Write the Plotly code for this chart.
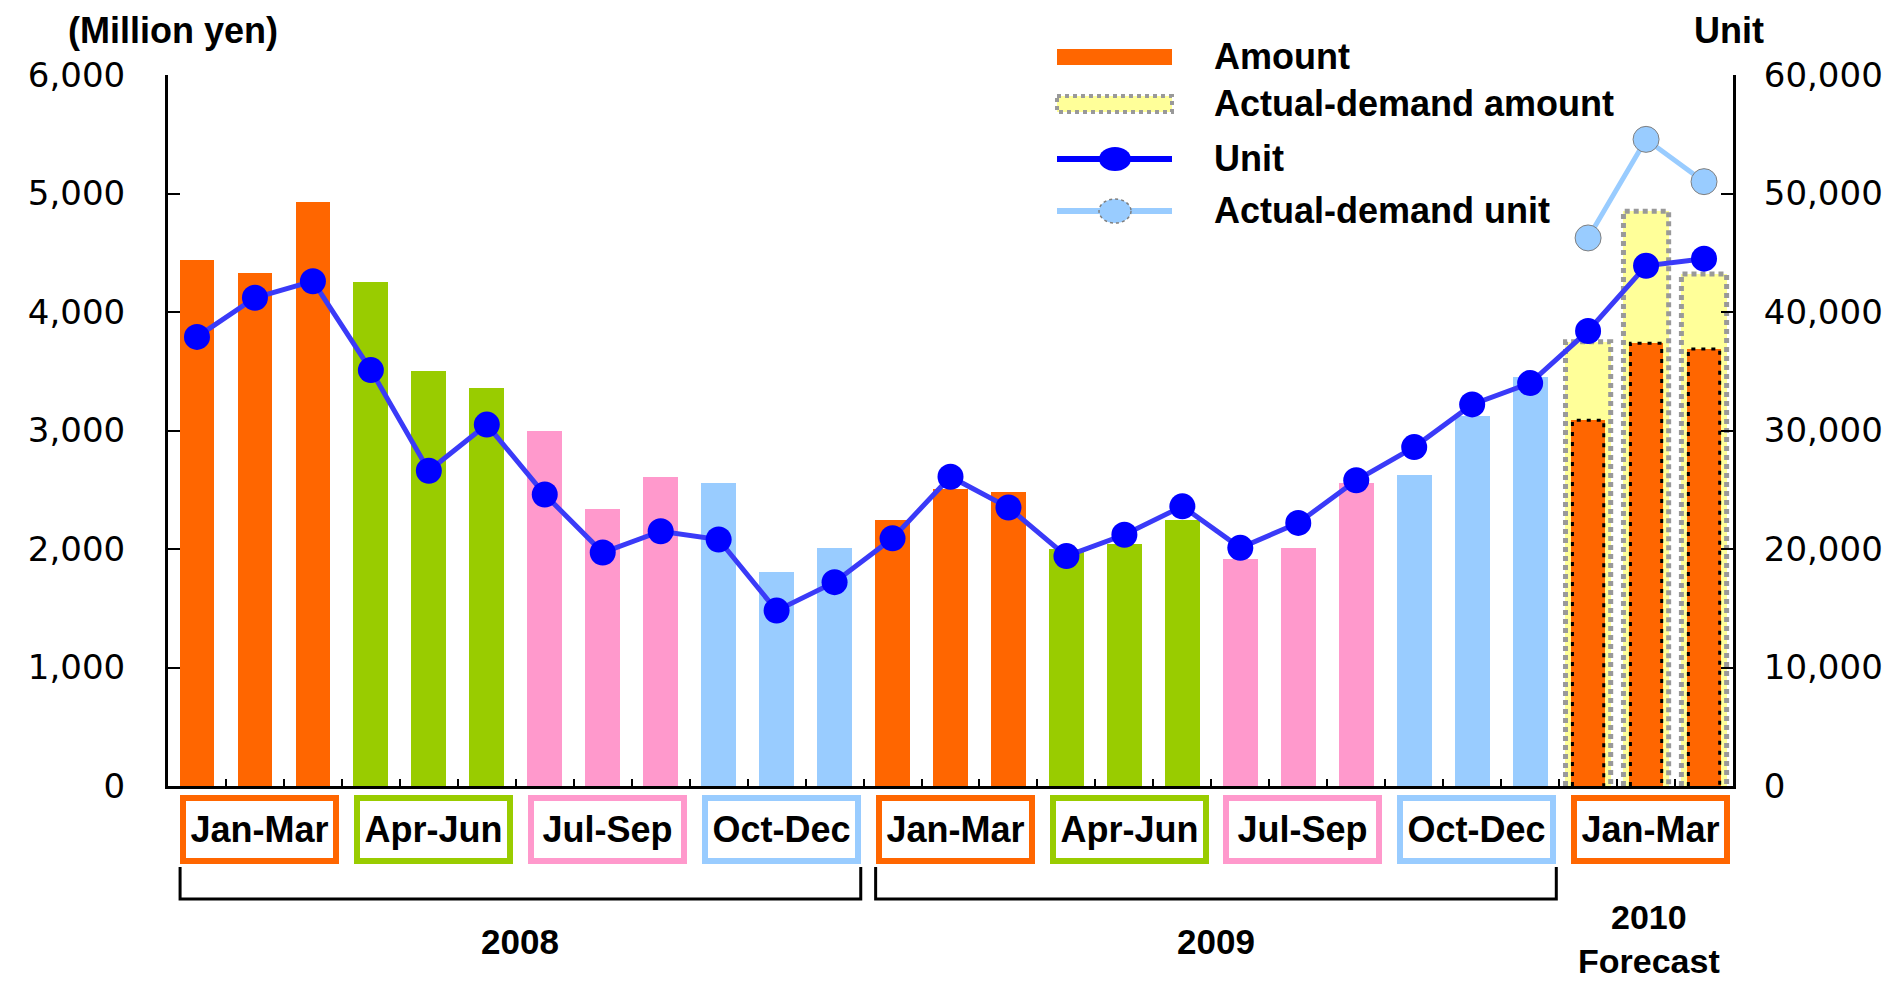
import plotly.graph_objects as go

# ---------------- data ----------------
months = [f"{y}-{m:02d}" for y in (2008, 2009) for m in range(1, 13)] + ["2010-01", "2010-02", "2010-03"]
quarter_labels = ["Jan-Mar", "Apr-Jun", "Jul-Sep", "Oct-Dec"]
year_labels = ["2008", "2009", "2010<br>Forecast"]
series_names = ["Amount", "Actual-demand amount", "Unit", "Actual-demand unit"]

amount = [4440, 4330, 4930, 4255, 3500, 3360, 2995, 2335, 2610, 2555, 1810, 2010,
          2245, 2505, 2480, 2000, 2042, 2245, 1915, 2008, 2557, 2624, 3122, 3451,
          3086, 3737, 3688]
unit = [37900, 41200, 42600, 35100, 26600, 30500, 24600, 19700, 21500, 20800, 14800, 17200,
        20900, 26100, 23500, 19400, 21200, 23600, 20100, 22200, 25800, 28600, 32200, 34000,
        38400, 43900, 44500]
forecast_idx = [24, 25, 26]
actual_amount = [3750, 4850, 4320]
actual_unit = [46250, 54570, 51000]

left_ticks = [0, 1000, 2000, 3000, 4000, 5000, 6000]
right_ticks = [0, 10000, 20000, 30000, 40000, 50000, 60000]

# ---------------- styling ----------------
quarter_colors = ["#FF6600", "#99CC00", "#FF99CC", "#99CCFF"]
C_UNIT, C_UNIT_LINE, C_ACT_UNIT, C_ACT_AMT, C_GREY = "#0000FF", "#3A3AF8", "#99CCFF", "#FFFF99", "#999999"
BOLD = "Liberation Sans, Arial, sans-serif"
NUM = "DejaVu Sans, Verdana, sans-serif"
OFF = 8                      # page body offset
W, H = 1901 - OFF, 981 - OFF
PL, PR, PT, PB = 168, 1733, 75, 786   # plot area in screen pixels
ML, MR, MT, MB = PL - OFF, 1901 - PR, PT - OFF, 981 - PB
BAR_W = 0.6
ACT_W = 0.78


def px(sx):
    return (sx - PL) / (PR - PL)


def py(sy):
    return (PB - sy) / (PB - PT)


xs = list(range(len(months)))
bar_colors = [quarter_colors[(i % 12) // 3] for i in xs]

fig = go.Figure()

# actual-demand amount (yellow, behind)
fig.add_trace(go.Bar(
    x=forecast_idx, y=actual_amount, width=ACT_W, name=series_names[1], showlegend=False,
    marker=dict(color=C_ACT_AMT, line=dict(width=0))))

# amount bars
fig.add_trace(go.Bar(
    x=xs, y=amount, width=BAR_W, name=series_names[0], showlegend=False,
    marker=dict(color=bar_colors, line=dict(width=0))))

# dotted outline of actual-demand bars, dashed outline of forecast bars
ox, oy, fx, fy = [], [], [], []
for i, v, a in zip(forecast_idx, actual_amount, [amount[k] for k in forecast_idx]):
    h = ACT_W / 2
    ox += [i - h, i - h, i + h, i + h, None]
    oy += [0, v, v, 0, None]
    b = BAR_W / 2 - 0.03
    fx += [i - b, i - b, i + b, i + b, None]
    fy += [0, a, a, 0, None]
fig.add_trace(go.Scatter(x=ox, y=oy, mode="lines", showlegend=False, hoverinfo="skip",
                         line=dict(color=C_GREY, width=5, dash="5px,4px")))
fig.add_trace(go.Scatter(x=fx, y=fy, mode="lines", showlegend=False, hoverinfo="skip",
                         line=dict(color="#000000", width=3, dash="4px,6px")))

# unit line
fig.add_trace(go.Scatter(
    x=xs, y=unit, yaxis="y2", mode="lines+markers", name=series_names[2], showlegend=False,
    line=dict(color=C_UNIT_LINE, width=5),
    marker=dict(color=C_UNIT, size=26, line=dict(width=0))))

# actual-demand unit line
fig.add_trace(go.Scatter(
    x=forecast_idx, y=actual_unit, yaxis="y2", mode="lines+markers", name=series_names[3],
    showlegend=False, line=dict(color=C_ACT_UNIT, width=5),
    marker=dict(color=C_ACT_UNIT, size=26, line=dict(color="#7F7F7F", width=1))))

# ---------------- x axis decorations ----------------
cat_px = (PR - PL) / len(months)
box_half = 159 / cat_px / 2
annotations = []
shapes = []
for q in range(9):
    cx = q * 3 + 1 + 0.08
    annotations.append(dict(
        x=cx, y=py(829.5), xref="x", yref="paper", xanchor="center", yanchor="middle",
        text=quarter_labels[q % 4], showarrow=False,
        font=dict(family=BOLD, size=36, color="black", weight="bold"),
        width=147, height=57, bordercolor=quarter_colors[q % 4], borderwidth=6, borderpad=0,
        bgcolor="white"))

for yi in range(2):
    x0 = yi * 12 + 1 + 0.08 - box_half
    x1 = yi * 12 + 9 + 1 + 0.08 + box_half
    shapes.append(dict(type="path", xref="x", yref="paper",
                       path=f"M{x0},{py(867)} L{x0},{py(899)} L{x1},{py(899)} L{x1},{py(867)}",
                       line=dict(color="black", width=3)))
    annotations.append(dict(x=(x0 + x1) / 2, y=py(941), xref="x", yref="paper",
                            xanchor="center", yanchor="middle",
                            text=year_labels[yi], showarrow=False,
                            font=dict(family=BOLD, size=35, color="black", weight="bold")))
annotations.append(dict(x=25.05, y=py(939), xref="x", yref="paper", xanchor="center",
                        yanchor="middle", text=year_labels[2], showarrow=False,
                        font=dict(family=BOLD, size=34, color="black", weight="bold")))

# axis titles
annotations.append(dict(x=px(173), y=py(31), xref="paper", yref="paper", xanchor="center",
                        yanchor="middle", text="(Million yen)", showarrow=False,
                        font=dict(family=BOLD, size=36, color="black", weight="bold")))
annotations.append(dict(x=px(1729), y=py(31), xref="paper", yref="paper", xanchor="center",
                        yanchor="middle", text="Unit", showarrow=False,
                        font=dict(family=BOLD, size=36, color="black", weight="bold")))

# ---------------- legend (drawn) ----------------
LX0, LX1, LXC, LTX = 1057, 1172, 1115, 1212
row_y = [57, 104, 159, 211]
shapes.append(dict(type="rect", xref="paper", yref="paper", x0=px(LX0), x1=px(LX1),
                   y0=py(row_y[0] - 8), y1=py(row_y[0] + 8), fillcolor=quarter_colors[0],
                   line=dict(width=0)))
shapes.append(dict(type="rect", xref="paper", yref="paper", x0=px(LX0), x1=px(LX1),
                   y0=py(row_y[1] - 8), y1=py(row_y[1] + 8), fillcolor=C_ACT_AMT,
                   line=dict(color=C_GREY, width=4, dash="dot")))
for r, (lc, mc, ml) in zip(row_y[2:], [(C_UNIT, C_UNIT, None), (C_ACT_UNIT, C_ACT_UNIT, "#7F7F7F")]):
    shapes.append(dict(type="line", xref="paper", yref="paper", x0=px(LX0), x1=px(LX1),
                       y0=py(r), y1=py(r), line=dict(color=lc, width=6)))
    shapes.append(dict(type="circle", xref="paper", yref="paper", x0=px(LXC - 16),
                       x1=px(LXC + 16), y0=py(r - 12), y1=py(r + 12), fillcolor=mc,
                       line=dict(color=ml or mc, width=1.5 if ml else 0, dash="dot")))
for r, name in zip(row_y, series_names):
    annotations.append(dict(x=px(LTX), y=py(r - 1), xref="paper", yref="paper", xanchor="left",
                            yanchor="middle", text=name, showarrow=False,
                            font=dict(family=BOLD, size=36, color="black", weight="bold")))

fig.update_layout(
    width=W, height=H,
    margin=dict(l=ML, r=MR, t=MT, b=MB, autoexpand=False),
    paper_bgcolor="white", plot_bgcolor="white",
    barmode="overlay", bargap=0,
    showlegend=False,
    xaxis=dict(range=[-0.5, len(months) - 0.5], showgrid=False, zeroline=False,
               showline=True, linecolor="black", linewidth=3,
               tickmode="array", tickvals=[i - 0.5 for i in range(len(months) + 1)],
               ticks="inside", ticklen=7, tickwidth=2, tickcolor="black",
               showticklabels=False),
    yaxis=dict(range=[0, 6000], tickvals=left_ticks, tickformat=",d", showgrid=False,
               zeroline=False, showline=True, linecolor="black", linewidth=3,
               ticks="inside", ticklen=12, tickwidth=2, tickcolor="black",
               tickfont=dict(family=NUM, size=34, color="black"), ticklabelstandoff=33),
    yaxis2=dict(range=[0, 60000], tickvals=right_ticks, tickformat=",d", overlaying="y",
                side="right", showgrid=False, zeroline=False, showline=True,
                linecolor="black", linewidth=3, ticks="inside", ticklen=12, tickwidth=2,
                tickcolor="black", tickfont=dict(family=NUM, size=34, color="black"),
                ticklabelstandoff=21),
    annotations=annotations,
    shapes=shapes,
)

fig.write_html("out.html")
